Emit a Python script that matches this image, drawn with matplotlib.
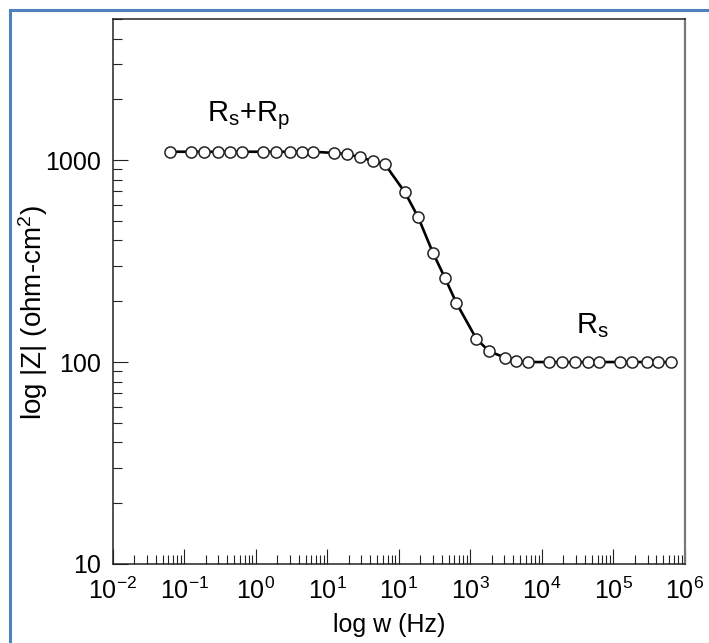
import matplotlib
matplotlib.use("Agg")
import matplotlib.pyplot as plt
from matplotlib.patches import Rectangle
from matplotlib.ticker import LogLocator, NullFormatter

plt.rcParams['font.family'] = ['Liberation Sans', 'DejaVu Sans']
plt.rcParams['mathtext.fontset'] = 'custom'
plt.rcParams['mathtext.rm'] = 'Liberation Sans'
plt.rcParams['mathtext.it'] = 'Liberation Sans:italic'
plt.rcParams['mathtext.bf'] = 'Liberation Sans:bold'

# frequency (Hz) and impedance modulus (ohm-cm2)
freq = [0.064, 0.125, 0.19, 0.30, 0.44, 0.64,
        1.25, 1.9, 3.0, 4.4, 6.4,
        12.5, 19, 29, 43, 64,
        122, 187, 300, 440, 640,
        1220, 1840, 3100, 4400, 6400,
        12500, 19000, 29000, 44000, 62000,
        122000, 180000, 292000, 416000, 631000]
zmod = [1100, 1100, 1100, 1100, 1100, 1100,
        1100, 1100, 1100, 1100, 1100,
        1085, 1072, 1031, 992, 955,
        693, 521, 348, 262, 196,
        130, 113, 105, 101, 100,
        100, 100, 100, 100, 100,
        100, 100, 100, 100, 100]

xticks = [1e-2, 1e-1, 1e0, 1e1, 1e2, 1e3, 1e4, 1e5, 1e6]
xtick_labels = ['$10^{-2}$', '$10^{-1}$', '$10^{0}$', '$10^{1}$', '$10^{1}$',
                '$10^{3}$', '$10^{4}$', '$10^{5}$', '$10^{6}$']
yticks = [10, 100, 1000]
ytick_labels = ['10', '100', '1000']

fig = plt.figure(figsize=(7.09, 6.43), dpi=100)
ax = fig.add_axes([0.1587, 0.1229, 0.8074, 0.8476])

ax.plot(freq, zmod, '-', color='black', lw=1.9, zorder=2)
ax.plot(freq, zmod, 'o', ms=8, mfc='white', mec='#222222', mew=1.1, zorder=3)

ax.set_xscale('log')
ax.set_yscale('log')
ax.set_xlim(1e-2, 1e6)
ax.set_ylim(10, 5000)

ax.set_xticks(xticks)
ax.set_xticklabels(xtick_labels)
ax.xaxis.set_minor_locator(LogLocator(base=10, subs=range(2, 10), numticks=50))
ax.xaxis.set_minor_formatter(NullFormatter())
ax.set_yticks(yticks)
ax.set_yticklabels(ytick_labels)
ax.yaxis.set_minor_locator(LogLocator(base=10, subs=range(2, 10), numticks=50))
ax.yaxis.set_minor_formatter(NullFormatter())

ax.tick_params(which='major', direction='in', length=11, width=0.8,
               labelsize=18, top=False, right=False, color='#222222')
ax.tick_params(axis='x', which='major', pad=10)
ax.tick_params(axis='y', which='major', pad=8)
ax.tick_params(which='minor', direction='in', length=6.5, width=0.8,
               top=False, right=False, color='#222222')

for s in ['left', 'bottom', 'top']:
    ax.spines[s].set_color('#222222')
    ax.spines[s].set_linewidth(1.1)
ax.spines['right'].set_color('#777777')
ax.spines['right'].set_linewidth(1.6)

ax.set_xlabel('log w (Hz)', fontsize=18)
ax.set_ylabel('log |Z| (ohm-cm$^2$)', fontsize=20)
ax.xaxis.set_label_coords(0.483, -0.09)
ax.yaxis.set_label_coords(-0.11, 0.462)

ax.text(0.21, 1560, 'R$_\\mathrm{s}$+R$_\\mathrm{p}$', fontsize=21,
        ha='left', va='baseline')
ax.text(29700, 139, 'R$_\\mathrm{s}$', fontsize=21, ha='left', va='baseline')

# blue frame round the figure
fig.add_artist(Rectangle((10 / 709, -0.1), 1.5, 1.1 - 10 / 643,
                         transform=fig.transFigure, fill=False,
                         ec='#4f81bd', lw=2.2))

fig.savefig('out.png', dpi=100)
